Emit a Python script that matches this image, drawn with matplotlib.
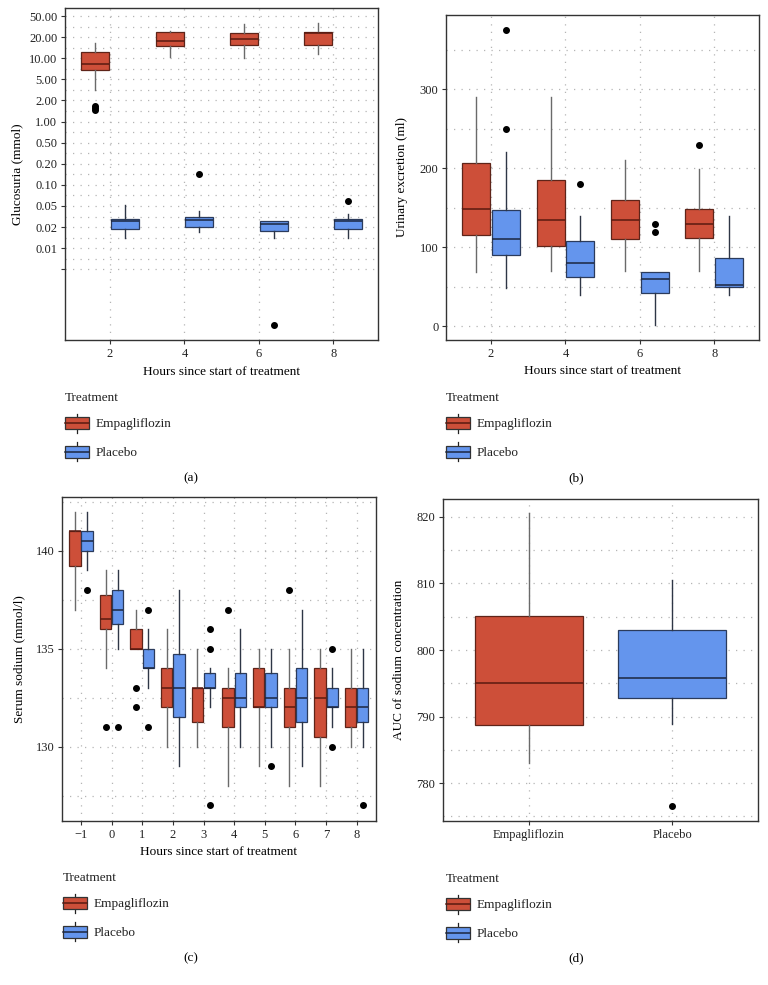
import numpy as np
import matplotlib
matplotlib.use("Agg")
import matplotlib.pyplot as plt
import matplotlib.patches as mpatches
import matplotlib.lines as mlines
from matplotlib.legend_handler import HandlerBase
from matplotlib.ticker import FixedLocator, FixedFormatter, NullFormatter

plt.rcParams['font.family'] = ['Liberation Serif', 'DejaVu Serif']

# ---------------- data ----------------
# (a) Glucosuria (mmol)
hours_a = [2, 4, 6, 8]
empa_a_med = [8.2, 17.8, 18.7, 23.6]
empa_a_q1 = [6.7, 14.8, 15.3, 15.3]
empa_a_q3 = [12.4, 24.7, 24.3, 24.7]
empa_a_lo = [3.16, 10.5, 10.2, 11.4]
empa_a_hi = [16.7, 26.6, 35.0, 36.5]
empa_a_out = [[1.65, 1.55, 1.45], [], [], []]
plac_a_med = [0.0261, 0.0273, 0.0229, 0.0263]
plac_a_q1 = [0.0188, 0.0203, 0.0174, 0.0188]
plac_a_q3 = [0.0288, 0.0310, 0.0263, 0.0288]
plac_a_lo = [0.0141, 0.0168, 0.0140, 0.0141]
plac_a_hi = [0.052, 0.040, 0.0263, 0.035]
plac_a_out = [[], [0.141], [0.00064], [0.058]]
yticks_a = [0.005, 0.01, 0.02, 0.05, 0.1, 0.2, 0.5, 1, 2, 5, 10, 20, 50]
yticklabels_a = ["", "0.01", "0.02", "0.05", "0.10", "0.20", "0.50", "1.00",
                 "2.00", "5.00", "10.00", "20.00", "50.00"]

# (b) Urinary excretion (ml)
hours_b = [2, 4, 6, 8]
empa_b_med = [149, 135, 135, 130]
empa_b_q1 = [115, 102, 110, 112]
empa_b_q3 = [207, 185, 160, 149]
empa_b_lo = [69, 70, 70, 70]
empa_b_hi = [290, 290, 210, 199]
empa_b_out = [[], [], [], [230]]
plac_b_med = [110, 80, 60, 52]
plac_b_q1 = [90, 62, 42, 50]
plac_b_q3 = [147, 108, 69, 87]
plac_b_lo = [49, 40, 2, 40]
plac_b_hi = [220, 140, 69, 140]
plac_b_out = [[375, 250], [180], [130, 120], []]

# (c) Serum sodium (mmol/l)
hours_c = [-1, 0, 1, 2, 3, 4, 5, 6, 7, 8]
empa_c_med = [141, 136.5, 135, 133, 133, 132.5, 132, 132, 132.5, 132]
empa_c_q1 = [139.25, 136, 135, 132, 131.25, 131, 132, 131, 130.5, 131]
empa_c_q3 = [141, 137.75, 136, 134, 133, 133, 134, 133, 134, 133]
empa_c_lo = [137, 134, 135, 130, 130, 128, 129, 128, 128, 130]
empa_c_hi = [142, 139, 137, 136, 135, 134, 135, 135, 135, 135]
empa_c_out = [[], [131], [133, 132], [], [], [137], [], [138], [], []]
plac_c_med = [140.5, 137, 134, 133, 133, 132.5, 132.5, 132.5, 132, 132]
plac_c_q1 = [140, 136.25, 134, 131.5, 133, 132, 132, 131.25, 132, 131.25]
plac_c_q3 = [141, 138, 135, 134.75, 133.75, 133.75, 133.75, 134, 133, 133]
plac_c_lo = [139, 135, 133, 129, 132, 130, 130, 129, 131, 130]
plac_c_hi = [142, 139, 136, 138, 134, 136, 135, 137, 134, 135]
plac_c_out = [[138], [131], [137, 131], [], [136, 135, 127], [], [129], [], [135, 130], [127]]

# (d) AUC of sodium concentration
groups_d = ["Empagliflozin", "Placebo"]
auc_med = [795.0, 795.8]
auc_q1 = [788.8, 792.8]
auc_q3 = [805.1, 803.0]
auc_lo = [783.0, 788.9]
auc_hi = [820.55, 810.5]
auc_out = [[], [776.5]]

treatments = ["Empagliflozin", "Placebo"]

# ---------------- styles ----------------
RED = "#CD4F39"
BLUE = "#6495ED"
STY = {
    "Empagliflozin": dict(fc=RED, ec="#5e2419", med="#5a1a10", wh="#6a6a6a"),
    "Placebo": dict(fc=BLUE, ec="#2b3b5c", med="#1c2740", wh="#2e3646"),
}
GRID = dict(color="#b5b5b5", linewidth=0.9, linestyle=(0, (1, 5)))
FS = 9


def make_stats(med, q1, q3, lo, hi, out):
    return [dict(med=m, q1=a, q3=b, whislo=l, whishi=h, fliers=np.array(f, dtype=float))
            for m, a, b, l, h, f in zip(med, q1, q3, lo, hi, out)]


def draw_boxes(ax, stats, positions, width, name):
    s = STY[name]
    ax.bxp(stats, positions=positions, widths=width, patch_artist=True,
           showcaps=False, manage_ticks=False,
           boxprops=dict(facecolor=s["fc"], edgecolor=s["ec"], linewidth=0.9),
           medianprops=dict(color=s["med"], linewidth=1.1),
           whiskerprops=dict(color=s["wh"], linewidth=1.0),
           flierprops=dict(marker="o", markerfacecolor="black", markeredgecolor="black",
                           markersize=4),
           zorder=3)


def style_axes(ax):
    for sp in ax.spines.values():
        sp.set_color("#333333")
        sp.set_linewidth(1.0)
    ax.tick_params(which="major", direction="out", length=3, width=0.8, color="#333333",
                   labelsize=FS, labelcolor="#222222", pad=2.5)
    ax.tick_params(which="minor", length=0)
    ax.set_axisbelow(True)


class BoxKey:
    def __init__(self, name):
        self.name = name


class BoxHandler(HandlerBase):
    def create_artists(self, legend, orig_handle, xdescent, ydescent, width, height,
                       fontsize, trans):
        s = STY[orig_handle.name]
        x0, y0 = -xdescent, -ydescent
        b0, b1 = y0 + 0.18 * height, y0 + 0.82 * height
        xc = x0 + width / 2
        w1 = mlines.Line2D([xc, xc], [y0, b0], color="#222222", lw=0.9, transform=trans)
        w2 = mlines.Line2D([xc, xc], [b1, y0 + height], color="#222222", lw=0.9, transform=trans)
        r = mpatches.Rectangle((x0, b0), width, b1 - b0, facecolor=s["fc"], edgecolor="#333333",
                               lw=0.9, transform=trans)
        m = mlines.Line2D([x0, x0 + width], [(b0 + b1) / 2] * 2, color=s["med"], lw=1.1,
                          transform=trans)
        return [w1, w2, r, m]


def add_legend(ax, fig, x_px, y_px):
    handles = [BoxKey(t) for t in treatments]
    leg = ax.legend(handles, treatments, handler_map={BoxKey: BoxHandler()},
                    loc="upper left", bbox_to_anchor=(x_px / 768, 1 - y_px / 985),
                    bbox_transform=fig.transFigure, frameon=False, title="Treatment",
                    alignment="left", fontsize=9.5, title_fontsize=9.5, borderpad=0,
                    borderaxespad=0, handlelength=1.85, handleheight=1.85,
                    handletextpad=0.5, labelspacing=0.72)
    for t in leg.get_texts():
        t.set_color("#222222")
    leg.get_title().set_color("#222222")


fig = plt.figure(figsize=(7.68, 9.85), dpi=100)


def axes_px(l, t, r, b):
    return fig.add_axes([l / 768, 1 - b / 985, (r - l) / 768, (b - t) / 985])


# ---------- (a) ----------
brk = np.array([0.0001, 0.0002, 0.0005, 0.001, 0.002, 0.005, 0.01, 0.02, 0.05, 0.1, 0.2,
                0.5, 1, 2, 5, 10, 20, 50, 100, 200, 500])
lbrk = np.log10(brk)
idx = np.arange(len(brk), dtype=float)


def fwd(v):
    v = np.clip(np.asarray(v, dtype=float), 1e-12, None)
    lv = np.log10(v)
    return np.interp(lv, lbrk, idx)


def inv(i):
    i = np.asarray(i, dtype=float)
    return 10 ** np.interp(i, idx, lbrk)


axa = axes_px(65, 8, 378, 340)
axa.set_yscale("function", functions=(fwd, inv))
style_axes(axa)
draw_boxes(axa, make_stats(empa_a_med, empa_a_q1, empa_a_q3, empa_a_lo, empa_a_hi, empa_a_out),
           [h - 0.4 for h in hours_a], 0.75, "Empagliflozin")
draw_boxes(axa, make_stats(plac_a_med, plac_a_q1, plac_a_q3, plac_a_lo, plac_a_hi, plac_a_out),
           [h + 0.4 for h in hours_a], 0.75, "Placebo")
axa.set_xlim(0.79, 9.2)
axa.set_ylim(float(inv(fwd(0.005) - 3.35)), float(inv(fwd(0.005) + 12.38)))
axa.yaxis.set_major_locator(FixedLocator(yticks_a))
axa.yaxis.set_major_formatter(FixedFormatter(yticklabels_a))
minor_a = inv((fwd(np.array(yticks_a[:-1])) + fwd(np.array(yticks_a[1:]))) / 2)
axa.yaxis.set_minor_locator(FixedLocator(minor_a))
axa.yaxis.set_minor_formatter(NullFormatter())
axa.set_xticks(hours_a)
axa.grid(True, which="both", axis="y", **GRID)
axa.grid(True, which="major", axis="x", **GRID)
axa.set_ylabel("Glucosuria (mmol)", fontsize=9.5, va="center")
axa.yaxis.set_label_coords(-0.154, 0.5)
axa.set_xlabel("Hours since start of treatment", fontsize=9.5, va="center")
axa.xaxis.set_label_coords(0.5, -0.0964)
add_legend(axa, fig, 65, 392)
fig.text(191 / 768, 1 - 478 / 985, "(a)", ha="center", va="center", fontsize=9.5)

# ---------- (b) ----------
axb = axes_px(446, 15, 759, 340)
style_axes(axb)
draw_boxes(axb, make_stats(empa_b_med, empa_b_q1, empa_b_q3, empa_b_lo, empa_b_hi, empa_b_out),
           [h - 0.4 for h in hours_b], 0.75, "Empagliflozin")
draw_boxes(axb, make_stats(plac_b_med, plac_b_q1, plac_b_q3, plac_b_lo, plac_b_hi, plac_b_out),
           [h + 0.4 for h in hours_b], 0.75, "Placebo")
axb.set_xlim(0.79, 9.2)
axb.set_ylim(-17.3, 394)
axb.set_yticks([0, 100, 200, 300])
axb.set_yticks([50, 150, 250, 350], minor=True)
axb.set_xticks(hours_b)
axb.grid(True, which="both", axis="y", **GRID)
axb.grid(True, which="major", axis="x", **GRID)
axb.set_ylabel("Urinary excretion (ml)", fontsize=9.5, va="center")
axb.yaxis.set_label_coords(-0.1415, 0.5)
axb.set_xlabel("Hours since start of treatment", fontsize=9.5, va="center")
axb.xaxis.set_label_coords(0.5, -0.0954)
add_legend(axb, fig, 446, 392)
fig.text(576 / 768, 1 - 478 / 985, "(b)", ha="center", va="center", fontsize=9.5)

# ---------- (c) ----------
axc = axes_px(62, 497, 376, 821)
style_axes(axc)
draw_boxes(axc, make_stats(empa_c_med, empa_c_q1, empa_c_q3, empa_c_lo, empa_c_hi, empa_c_out),
           [h - 0.2 for h in hours_c], 0.37, "Empagliflozin")
draw_boxes(axc, make_stats(plac_c_med, plac_c_q1, plac_c_q3, plac_c_lo, plac_c_hi, plac_c_out),
           [h + 0.2 for h in hours_c], 0.37, "Placebo")
axc.set_xlim(-1.62, 8.63)
axc.set_ylim(126.2, 142.75)
axc.set_yticks([130, 135, 140])
axc.set_yticks([127.5, 132.5, 137.5, 142.5], minor=True)
axc.set_xticks(hours_c)
axc.set_xticklabels(["\u22121"] + [str(h) for h in hours_c[1:]])
axc.grid(True, which="both", axis="y", **GRID)
axc.grid(True, which="major", axis="x", **GRID)
axc.set_ylabel("Serum sodium (mmol/l)", fontsize=9.5, va="center")
axc.yaxis.set_label_coords(-0.137, 0.5)
axc.set_xlabel("Hours since start of treatment", fontsize=9.5, va="center")
axc.xaxis.set_label_coords(0.5, -0.0957)
add_legend(axc, fig, 63, 872)
fig.text(191 / 768, 1 - 958 / 985, "(c)", ha="center", va="center", fontsize=9.5)

# ---------- (d) ----------
axd = axes_px(443, 499, 758, 821)
style_axes(axd)
pos_d = np.arange(1, len(groups_d) + 1)
for i, g in enumerate(groups_d):
    draw_boxes(axd, make_stats([auc_med[i]], [auc_q1[i]], [auc_q3[i]], [auc_lo[i]],
                               [auc_hi[i]], [auc_out[i]]), [pos_d[i]], 0.75, g)
axd.set_xlim(0.4, 2.6)
axd.set_ylim(774.3, 822.7)
axd.set_yticks([780, 790, 800, 810, 820])
axd.set_yticks([775, 785, 795, 805, 815], minor=True)
axd.set_xticks(pos_d)
axd.set_xticklabels(groups_d)
axd.grid(True, which="both", axis="y", **GRID)
axd.grid(True, which="major", axis="x", **GRID)
axd.set_ylabel("AUC of sodium concentration", fontsize=9.5, va="center")
axd.yaxis.set_label_coords(-0.1397, 0.5)
add_legend(axd, fig, 446, 873)
fig.text(576 / 768, 1 - 958 / 985, "(d)", ha="center", va="center", fontsize=9.5)

fig.savefig("out.png", dpi=100, facecolor="white")
